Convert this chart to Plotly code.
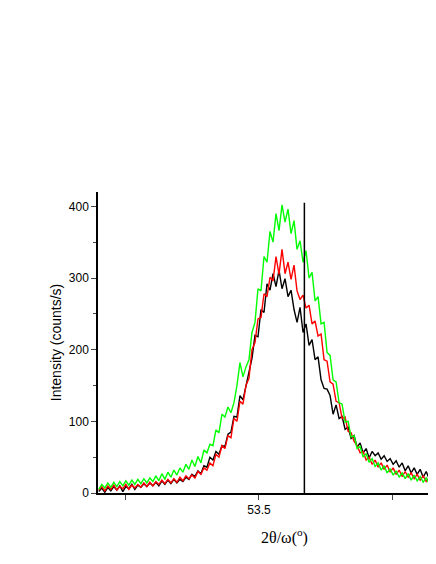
import plotly.graph_objects as go

# 2theta/omega scan grid (deg)
scan_start = 53.26
scan_step = 0.0045

# intensities (counts/s), one value per scan step
black_counts = [
    2, 7, 1, 8, 3, 9, 4, 10, 2, 9, 6, 12, 5, 11, 8, 13, 9, 14, 10, 15,
    10, 17, 12, 18, 13, 19, 14, 19, 16, 22, 19, 26, 23, 31, 27, 38, 36, 50, 46, 58,
    54, 66, 65, 82, 85, 107, 106, 136, 130, 150, 172, 188, 220, 218, 256, 252, 292, 283, 306, 288,
    311, 285, 299, 274, 283, 256, 238, 259, 224, 236, 206, 214, 186, 190, 158, 146, 145, 136, 110, 123,
    104, 107, 89, 92, 76, 80, 64, 70, 56, 62, 49, 58, 52, 56, 47, 52, 44, 48, 40, 45,
    36, 42, 31, 38, 28, 35, 26, 33, 22, 30, 20, 28, 14,
]
red_counts = [
    4, 9, 3, 10, 5, 11, 4, 9, 6, 12, 5, 11, 7, 12, 8, 14, 9, 15, 10, 16,
    12, 18, 13, 19, 14, 20, 15, 22, 17, 24, 20, 25, 21, 30, 26, 35, 32, 42, 38, 54,
    50, 66, 62, 80, 77, 104, 100, 128, 124, 150, 160, 200, 210, 243, 245, 278, 274, 301, 296, 330,
    305, 340, 306, 322, 298, 318, 282, 270, 276, 258, 262, 236, 240, 219, 222, 186, 184, 155, 152, 128,
    126, 104, 106, 86, 84, 72, 66, 56, 58, 46, 50, 40, 46, 36, 42, 33, 39, 29, 35, 26,
    32, 23, 30, 22, 28, 20, 26, 18, 24, 16, 22, 14, 19,
]
green_counts = [
    5, 12, 7, 14, 8, 15, 9, 16, 10, 17, 11, 18, 12, 19, 13, 20, 14, 21, 16, 24,
    17, 27, 19, 29, 22, 32, 25, 35, 29, 40, 33, 46, 37, 51, 42, 60, 56, 68, 66, 88,
    84, 110, 106, 120, 112, 126, 150, 182, 162, 176, 186, 224, 238, 285, 282, 330, 322, 365, 350, 390,
    366, 402, 378, 396, 362, 380, 340, 352, 322, 338, 300, 308, 268, 274, 236, 238, 196, 192, 158, 155,
    126, 124, 99, 100, 78, 80, 62, 65, 50, 55, 43, 48, 37, 42, 32, 38, 28, 34, 25, 31,
    22, 28, 20, 27, 18, 25, 17, 23, 15, 21, 13, 19, 12,
]

# reference line position
ref_pos = 53.568
ref_top = 405

two_theta = [scan_start + scan_step * i for i in range(len(black_counts))]

fig = go.Figure()

for counts, color in [(black_counts, 'black'), (red_counts, 'red'), (green_counts, '#00ff00')]:
    fig.add_trace(go.Scatter(
        x=two_theta,
        y=counts,
        mode='lines',
        line=dict(color=color, width=1.4),
        showlegend=False
    ))

fig.add_trace(go.Scatter(
    x=[ref_pos, ref_pos],
    y=[0, ref_top],
    mode='lines',
    line=dict(color='black', width=1.5),
    showlegend=False
))

# page body adds an 8px margin, so the figure is sized to fit inside it
fig.update_layout(
    width=428,
    height=544,
    margin=dict(l=90, r=0, t=184, b=59),
    plot_bgcolor='white',
    paper_bgcolor='white',
    font=dict(family='Liberation Sans, Arial', size=12, color='black'),
    xaxis=dict(
        range=[53.2588, 53.7652],
        tickvals=[53.5],
        ticktext=['53.5'],
        ticks='outside',
        ticklen=5,
        tickwidth=1,
        minor=dict(ticks='outside', ticklen=5, tickwidth=1, tickvals=[53.3, 53.7]),
        showline=True,
        linecolor='black',
        linewidth=1.5,
        showgrid=False,
        zeroline=False,
    ),
    yaxis=dict(
        range=[0, 420],
        tickvals=[0, 100, 200, 300, 400],
        ticks='outside',
        ticklen=5,
        tickwidth=1,
        minor=dict(ticks='outside', ticklen=3, dtick=50, tickwidth=1),
        showline=True,
        linecolor='black',
        linewidth=1.5,
        showgrid=False,
        zeroline=False,
        title=dict(text='Intensity (counts/s)', font=dict(size=14), standoff=4),
    ),
    annotations=[dict(
        text='2θ/ω(<sup>o</sup>)',
        xref='paper', yref='paper',
        x=0.553, y=-0.143,
        xanchor='center', yanchor='middle',
        showarrow=False,
        font=dict(family='Liberation Serif, Times New Roman', size=16, color='black'),
    )],
)

fig.write_html("out.html")
